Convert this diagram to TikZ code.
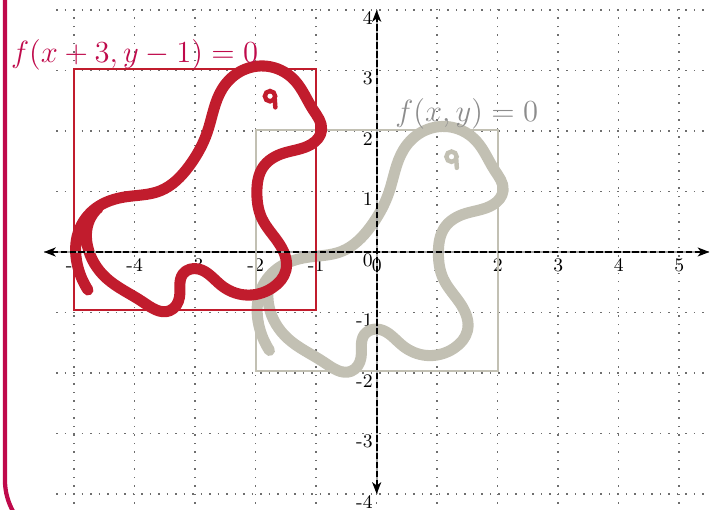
\documentclass[tikz,border=0pt]{standalone}
\usetikzlibrary{arrows.meta,hobby}
\definecolor{curvered}{HTML}{C11C2D}
\definecolor{curvegray}{HTML}{C2C0B3}
\definecolor{framered}{HTML}{BF0A4B}
\definecolor{labelgray}{HTML}{8C8C8C}
\definecolor{gridgray}{HTML}{6E6E6E}
\begin{document}
\begin{tikzpicture}[x=1cm,y=1cm,
  gridline/.style={gridgray, line width=0.7pt, dash pattern=on 0.7pt off 3.3pt},
  ticklab/.style={font=\small, inner sep=0pt},
  blob/.style={line width=5.2pt, line cap=round, line join=round, use Hobby shortcut},
  eyestroke/.style={line width=2.1pt, line cap=round},
  boxline/.style={line width=0.9pt},
  axisunder/.style={gray!70, line width=1.1pt},
  axisline/.style={black, line width=1.1pt, dash pattern=on 3pt off 1.2pt,
    {Stealth[length=5.5pt,width=4.2pt,inset=1.5pt]}-{Stealth[length=5.5pt,width=4.2pt,inset=1.5pt]}},
  bigtext/.style={font=\Large, anchor=base, inner sep=0pt}]
\useasboundingbox (-6.226,-4.264) rectangle (5.625,4.165);
\begin{scope}
\clip (-6.226,-4.264) rectangle (5.625,4.165);
% grid
\draw[gridline] (-5.3,-4.3) grid (5.5,4.1);
% left frame
\draw[framered, line width=2pt] (-6.144,4.4) -- (-6.144,-3.77) arc[start angle=180, end angle=270, radius=1.06];
\end{scope}
% tick labels
\foreach \x in {-5,...,5} \node[ticklab] (xt\x) at (\x,-0.22) {\x};
\foreach \y in {-4,...,4} \node[ticklab, anchor=east] (yt\y) at (-0.06,\y-0.13) {\y};
% gray (original) figure
\draw[curvegray, boxline] (-2,-1.96) rectangle (2,2.02);
\begin{scope}[shift={(3,-1)}]
\draw[curvegray, blob] (-4.772,-0.628) .. (-4.95,-0.20) .. (-4.93,0.33) .. (-4.62,0.74)
 .. (-4.16,0.91) .. (-3.58,1.01) .. (-3.10,1.42) .. (-2.80,1.98) .. (-2.55,2.70)
 .. (-2.20,3.01) .. (-1.75,3.06) .. (-1.35,2.83) .. (-1.05,2.35) .. (-0.91,2.02)
 .. (-1.08,1.78) .. (-1.55,1.63) .. (-1.88,1.40) .. (-1.98,1.00) .. (-1.90,0.56)
 .. (-1.60,0.12) .. (-1.50,-0.30) .. (-1.72,-0.59) .. (-2.18,-0.71) .. (-2.57,-0.55)
 .. (-2.95,-0.28) .. (-3.20,-0.36) .. (-3.26,-0.75) .. (-3.42,-0.97) .. (-3.86,-0.83)
 .. (-4.47,-0.43) .. (-4.78,0.10) .. (-4.75,0.52) .. (-4.60,0.73);
\draw[curvegray, eyestroke] (-1.763,2.575) circle (0.085);
\draw[curvegray, eyestroke] (-1.685,2.53) -- (-1.675,2.39);
\end{scope}
% red (shifted) figure
\draw[curvered, boxline] (-5,-0.96) rectangle (-1,3.02);
\draw[curvered, blob] (-4.772,-0.628) .. (-4.95,-0.20) .. (-4.93,0.33) .. (-4.62,0.74)
 .. (-4.16,0.91) .. (-3.58,1.01) .. (-3.10,1.42) .. (-2.80,1.98) .. (-2.55,2.70)
 .. (-2.20,3.01) .. (-1.75,3.06) .. (-1.35,2.83) .. (-1.05,2.35) .. (-0.91,2.02)
 .. (-1.08,1.78) .. (-1.55,1.63) .. (-1.88,1.40) .. (-1.98,1.00) .. (-1.90,0.56)
 .. (-1.60,0.12) .. (-1.50,-0.30) .. (-1.72,-0.59) .. (-2.18,-0.71) .. (-2.57,-0.55)
 .. (-2.95,-0.28) .. (-3.20,-0.36) .. (-3.26,-0.75) .. (-3.42,-0.97) .. (-3.86,-0.83)
 .. (-4.47,-0.43) .. (-4.78,0.10) .. (-4.75,0.52) .. (-4.60,0.73);
\draw[curvered, eyestroke] (-1.763,2.575) circle (0.085);
\draw[curvered, eyestroke] (-1.685,2.53) -- (-1.675,2.39);
% axes
\coordinate (xa) at (-5.5,0);
\coordinate (xb) at (5.5,0);
\coordinate (ya) at (0,-4);
\coordinate (yb) at (0,4);
\draw[axisunder] (xa) -- (xb);
\draw[axisunder] (ya) -- (yb);
\draw[axisline] (xa) -- (xb);
\draw[axisline] (ya) -- (yb);
% labels
\node[bigtext, text=framered] (lblred) at (-4.0,3.14) {$f(x+3,y-1)=0$};
\node[bigtext, text=labelgray] (lblgray) at (1.49,2.149) {$f(x,y)=0$};
\end{tikzpicture}
\end{document}
